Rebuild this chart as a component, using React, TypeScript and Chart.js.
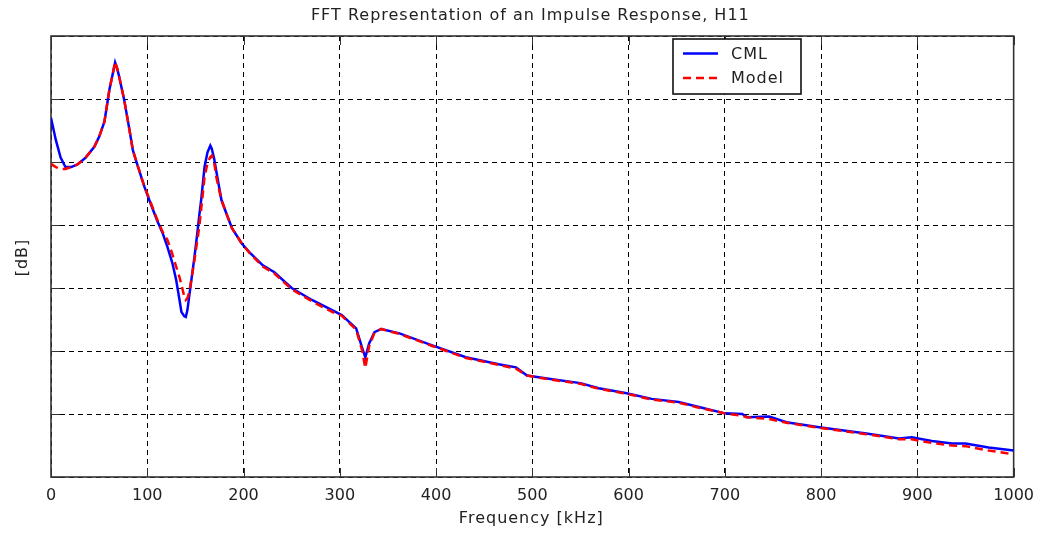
import React, { useEffect, useRef } from "react";
import { Chart, registerables } from "chart.js";

Chart.register(...registerables);

const TITLE = "FFT Representation of an Impulse Response, H11";
const X_TITLE = "Frequency [kHz]";
const Y_TITLE = "[dB]";
const SERIES_NAMES = ["CML", "Model"];

const X_MIN = 0;
const X_MAX = 1000;
const X_STEP = 100;
const Y_MIN = -70;
const Y_MAX = 0;
const Y_STEP = 10;

const FREQ_KHZ = [
  0, 5, 10, 15, 21, 27.5, 36, 45, 50, 55.5, 60.7, 64, 66.6, 69, 71, 76, 81.5, 85, 89, 97,
  102, 110, 116, 121, 126, 130, 133.5, 135.5, 138.5, 140, 141.7, 144, 149, 152, 154, 156,
  159.5, 162.5, 165.5, 167, 169.5, 172, 177, 182, 188, 198, 206, 220, 232, 250, 271, 292,
  302, 317, 323, 326.5, 330.5, 336, 343, 362, 396, 431, 465, 483, 494.5, 517, 550, 569,
  598, 624, 652, 673, 700, 718, 723, 746, 764, 798, 847, 881, 894, 915, 936, 950, 974, 1000,
];

const CML_DB = [
  -13.0, -16.5, -19.3, -20.8, -20.8, -20.4, -19.3, -17.6, -16.0, -13.6, -8.5, -6.1, -4.2, -5.3, -6.6, -10.1, -14.9, -18.1, -20.1, -23.9,
  -26.0, -29.2, -31.3, -33.5, -36.0, -38.7, -41.9, -43.8, -44.5, -44.6, -43.5, -40.8, -35.1, -31.3, -28.5, -26.0,
  -20.8, -18.5, -17.4, -17.9, -19.5, -21.7, -26.0, -28.1, -30.5, -32.9, -34.3, -36.4, -37.5, -40.0, -41.9, -43.5,
  -44.3, -46.4, -49.4, -51.0, -48.8, -47.0, -46.5, -47.2, -49.1, -51.0, -52.1, -52.6, -53.9, -54.4, -55.1, -55.9,
  -56.7, -57.6, -58.1, -58.9, -59.9, -60.0, -60.5, -60.4, -61.3, -62.1, -63.1, -63.9, -63.7, -64.3, -64.7, -64.7, -65.3, -65.8,
];

const MODEL_DB = [
  -20.3, -20.8, -21.1, -21.1, -20.8, -20.4, -19.3, -17.6, -16.0, -13.6, -8.5, -6.1, -4.1, -5.3, -6.6, -10.1, -14.9, -18.1, -20.1, -23.9,
  -25.8, -29.0, -31.1, -32.4, -34.6, -36.6, -38.3, -39.5, -41.4, -41.9, -41.6, -40.4, -35.6, -32.4, -30.3, -27.5,
  -22.4, -20.2, -19.2, -19.0, -20.1, -22.6, -26.0, -28.1, -30.5, -32.9, -34.4, -36.6, -37.7, -40.2, -42.1, -43.8,
  -44.4, -46.6, -49.8, -52.7, -49.2, -47.1, -46.5, -47.3, -49.2, -51.1, -52.2, -52.8, -53.9, -54.5, -55.2, -56.0,
  -56.8, -57.7, -58.2, -59.0, -59.9, -60.3, -60.5, -60.8, -61.4, -62.2, -63.2, -64.0, -64.0, -64.6, -65.0, -65.1, -65.8, -66.4,
];

const FONT_FAMILY = '"DejaVu Sans", "Liberation Sans", sans-serif';
const TEXT_COLOR = "#222";
const FRAME_COLOR = "#333";

const toPoints = (ys: number[]) => FREQ_KHZ.map((x, i) => ({ x, y: ys[i] }));

const matlabPlugin = {
  id: "matlabDecor",
  beforeDatasetsDraw(chart: any) {
    const { ctx, chartArea: a, scales } = chart;
    ctx.save();
    ctx.strokeStyle = FRAME_COLOR;
    ctx.lineWidth = 1;
    ctx.setLineDash([]);
    const tl = 9;
    ctx.beginPath();
    scales.x.ticks.forEach((t: any) => {
      const px = Math.round(scales.x.getPixelForValue(t.value)) + 0.5;
      ctx.moveTo(px, a.bottom);
      ctx.lineTo(px, a.bottom - tl);
      ctx.moveTo(px, a.top);
      ctx.lineTo(px, a.top + tl);
    });
    scales.y.ticks.forEach((t: any) => {
      const py = Math.round(scales.y.getPixelForValue(t.value)) + 0.5;
      ctx.moveTo(a.left, py);
      ctx.lineTo(a.left + tl, py);
      ctx.moveTo(a.right, py);
      ctx.lineTo(a.right - tl, py);
    });
    ctx.stroke();
    ctx.lineWidth = 1.6;
    ctx.strokeRect(a.left, a.top, a.right - a.left, a.bottom - a.top);
    ctx.restore();
  },
  afterDraw(chart: any) {
    const { ctx, chartArea: a } = chart;
    ctx.save();
    ctx.fillStyle = TEXT_COLOR;
    ctx.font = `16px ${FONT_FAMILY}`;
    (ctx as any).letterSpacing = "1px";
    ctx.textAlign = "center";
    ctx.textBaseline = "alphabetic";
    ctx.fillText(TITLE, (a.left + a.right) / 2 - 2, 20);
    ctx.fillText(X_TITLE, (a.left + a.right) / 2 - 1, 523);
    ctx.save();
    ctx.translate(27, (a.top + a.bottom) / 2 + 1);
    ctx.rotate(-Math.PI / 2);
    ctx.fillText(Y_TITLE, 0, 0);
    ctx.restore();

    // legend
    const bx = 673, by = 39, bw = 128, bh = 55;
    ctx.fillStyle = "#fff";
    ctx.fillRect(bx, by, bw, bh);
    ctx.strokeStyle = "#111";
    ctx.lineWidth = 1.6;
    ctx.setLineDash([]);
    ctx.strokeRect(bx, by, bw, bh);
    const rows = [
      { y: 53.5, color: "#0000ff", dash: [] as number[] },
      { y: 78, color: "#ff0000", dash: [8, 5] },
    ];
    rows.forEach((r, i) => {
      ctx.strokeStyle = r.color;
      ctx.lineWidth = 2.6;
      ctx.setLineDash(r.dash);
      ctx.beginPath();
      ctx.moveTo(683, r.y);
      ctx.lineTo(718, r.y);
      ctx.stroke();
      ctx.setLineDash([]);
      ctx.fillStyle = TEXT_COLOR;
      ctx.textAlign = "left";
      ctx.textBaseline = "middle";
      ctx.fillText(SERIES_NAMES[i], 731, r.y + 1);
    });
    ctx.restore();
  },
};

export default function App() {
  const ref = useRef<HTMLCanvasElement | null>(null);
  useEffect(() => {
    if (!ref.current) return;
    const chart = new Chart(ref.current, {
      type: "line",
      data: {
        datasets: [
          {
            label: SERIES_NAMES[0],
            data: toPoints(CML_DB),
            borderColor: "#0000ff",
            borderWidth: 2.5,
            pointRadius: 0,
            tension: 0,
            fill: false,
            order: 2,
          },
          {
            label: SERIES_NAMES[1],
            data: toPoints(MODEL_DB),
            borderColor: "#ff0000",
            borderWidth: 2.5,
            borderDash: [8, 5],
            pointRadius: 0,
            tension: 0,
            fill: false,
            order: 1,
          },
        ],
      },
      options: {
        animation: false,
        responsive: false,
        layout: { padding: { left: 0, top: 36, right: 28, bottom: 0 } },
        plugins: {
          legend: { display: false },
          title: { display: false },
          tooltip: { enabled: false },
        },
        scales: {
          x: {
            type: "linear",
            min: X_MIN,
            max: X_MAX,
            afterFit: (s: any) => {
              s.height = 62;
            },
            ticks: {
              stepSize: X_STEP,
              color: TEXT_COLOR,
              font: { family: FONT_FAMILY, size: 16 },
              padding: 9,
              maxRotation: 0,
              callback: (v: any) => String(v),
            },
            grid: { color: "#000", lineWidth: 1, drawTicks: false },
            border: { display: false, dash: [5, 4] },
          },
          y: {
            type: "linear",
            min: Y_MIN,
            max: Y_MAX,
            afterFit: (s: any) => {
              s.width = 51;
            },
            ticks: { stepSize: Y_STEP, display: false },
            grid: { color: "#000", lineWidth: 1, drawTicks: false },
            border: { display: false, dash: [5, 4] },
          },
        },
      },
      plugins: [matlabPlugin],
    });
    return () => chart.destroy();
  }, []);
  return (
    <div style={{ position: "fixed", left: 0, top: 0, width: 1043, height: 539, background: "#fff" }}>
      <canvas ref={ref} width={1043} height={539} style={{ display: "block" }} />
    </div>
  );
}
